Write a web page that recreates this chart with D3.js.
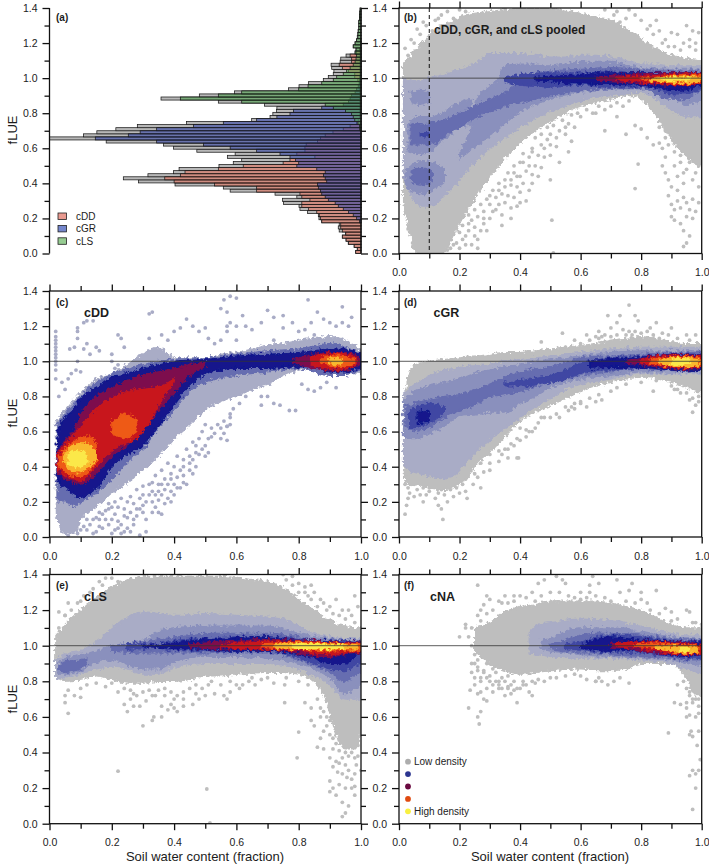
<!DOCTYPE html>
<html>
<head>
<meta charset="utf-8">
<script src="https://cdn.jsdelivr.net/npm/d3@7"></script>
<style>
  body { margin: 0; background: #fff; }
  text { font-family: "Liberation Sans", Arial, sans-serif; fill: #1c1c1c; }
  .domain { display: none; }
</style>
</head>
<body>
<div id="chart"></div>
<script>
// values //

// panel (a): share of the axis width per fLUE bin, bottom bin first
var binWidth = 0.0175;
var histAll = [1.7,1.2,2.2,4.1,4.8,6,4.9,7,7.3,7,12.6,13.5,13.7,17.2,19.6,19.9,24.9,25.2,20.6,27.6,42,44.2,59.7,71.4,76.3,68.4,60.2,58.4,45.6,41,38.3,42.9,40.4,52.7,60.2,63.4,81.8,100,89.1,84.8,78.7,71.8,56,35.1,29.2,28.3,27.1,27,31,45.8,64.2,51.9,40.6,23.3,19.9,16.9,12.1,10.5,8.9,8.7,9.4,9.6,6.7,6.5,4.8,1.9,1.6,2.5,1.9,1.4,1.2,1,0.9,0.7,0.7,0.7,0.5,0.5,0.4,0.3];
var histDD = [1.7,1.2,2.2,4,4.8,6,4.9,6,6.5,6.5,12.6,13,13.4,14.2,16.9,19,19,16.4,19,19.6,33.5,33.5,47,60,63,58,56.5,45.8,37.8,25,22.8,14.8,20.6,18,18,17.6,14,13,11.5,9,5.7,3.5,1.4,0.9,0.5,0.5,0.5,0.5,0.5,0.5,0.5,0.5,0.5,0.5,0.5,0.5,1,2,2,4,6,7,3,3,3.5,1.5,0.5,0,0,0,0,0,0,0,0,0,0,0,0,0];
var histGR = [0,0,0,0,0,0,0,0,0,0,0.5,1.4,2.5,4,5.7,7.3,8.3,10.5,11.5,12.6,13,13.7,14,11,11.5,12,11.5,14.2,20.6,20,21,22.8,26,33.5,42,50.6,65.6,85.3,74.7,70.9,65.6,53.8,44.2,33.5,27,22.8,21.7,12.6,5.7,4,3.5,3,1.9,1.4,0.9,0.6,0.5,0.4,0.3,0.3,0.3,0.3,0.3,0.3,0.3,0.3,0.2,0.2,0.2,0.2,0,0,0,0,0,0,0,0,0,0];
var histLS = [0,0,0,0,0,0,0,0,0,0,0,0,0,0,0,0,0,0,0,0,0,0,0,0,0,0,0,0,0,0,0,0,0,0,0,0,0,0,0,0,0.4,0.5,1,2,2.5,3,5,8.9,11.5,38.3,58,45.8,38.3,20,17,12.6,8.9,7.8,5.7,4.6,3.5,2.5,1.9,1.6,1.4,1.9,1.6,2.5,1.9,1.4,1,1,0.9,0.7,0.7,0.7,0.5,0.5,0.4,0.3];
var histSeries = ["cDD", "cGR", "cLS"];

var yTicksMajor = [0, 0.2, 0.4, 0.6, 0.8, 1.0, 1.2, 1.4];
var yTicksMinor = [0.1, 0.3, 0.5, 0.7, 0.9, 1.1, 1.3];
var xTicksMajor = [0, 0.2, 0.4, 0.6, 0.8, 1.0];
var xTicksMinor = [0.1, 0.3, 0.5, 0.7, 0.9];
var densityLegend = ["Low density", "", "", "", "High density"];

// density bands: [level, [[swc, low fLUE, high fLUE], ...]], outermost first
var bandsB = [
  [0, [[.015,.3,1.08],[.04,.08,1.13],[.06,0,1.17],[.1,0,1.24],[.14,0,1.3],[.17,.06,1.32],[.2,.17,1.35],[.25,.31,1.37],[.3,.44,1.38],[.35,.54,1.39],[.4,.63,1.4],[.45,.7,1.4],[.5,.75,1.4],[.55,.8,1.38],[.6,.84,1.37],[.65,.86,1.35],[.7,.88,1.33],[.75,.9,1.28],[.78,.9,1.25],[.8,.88,1.22],[.85,.78,1.17],[.9,.65,1.13],[.95,.55,1.11],[1,.5,1.1]]],
  [1, [[.015,.45,1],[.03,.37,.99],[.05,.3,.98],[.08,.27,.99],[.1,.27,1],[.12,.28,1.01],[.15,.33,1.02],[.2,.42,1.05],[.25,.52,1.08],[.3,.6,1.14],[.35,.66,1.14],[.4,.72,1.14],[.45,.77,1.13],[.5,.81,1.12],[.55,.84,1.12],[.6,.87,1.13],[.65,.89,1.13],[.7,.9,1.12],[.75,.91,1.1],[.8,.92,1.08],[.85,.88,1.08],[.9,.82,1.07],[.95,.78,1.07],[1,.78,1.07]]],
  [2, [[.03,.58,.72],[.05,.57,.78],[.1,.58,.78],[.13,.62,.79],[.17,.68,.83],[.2,.72,.86],[.24,.73,.88]]],
  [2, [[.2,.54,.57],[.22,.57,.64],[.24,.6,.72],[.26,.62,.89],[.3,.67,.95],[.33,.71,1],[.35,.74,1.07],[.4,.81,1.08],[.45,.85,1.08],[.5,.88,1.07],[.6,.92,1.09],[.7,.94,1.09],[.8,.95,1.06],[.9,.9,1.05],[.95,.85,1.05],[1,.87,1.05]]],
  [2, [[.04,.86,.92],[.07,.85,.93],[.1,.86,.92]]],
  [2, [[.02,.4,.47],[.04,.36,.5],[.08,.34,.53],[.11,.36,.52],[.15,.41,.48]]],
  [3, [[.04,.62,.74],[.08,.62,.74],[.12,.63,.75],[.15,.67,.76],[.2,.72,.8],[.25,.77,.84],[.3,.81,.88],[.35,.84,.92],[.4,.86,.97],[.45,.88,1.03],[.5,.9,1.04],[.6,.93,1.05],[.7,.94,1.06],[.8,.94,1.05],[.9,.88,1.04],[.95,.88,1.04],[1,.93,1.04]]],
  [3, [[.04,.41,.47],[.07,.39,.49],[.11,.41,.47]]],
  [4, [[.07,.67,.69],[.1,.67,.69]]],
  [4, [[.35,.98,1],[.4,.96,1.02],[.5,.95,1.03],[.6,.96,1.03],[.7,.95,1.04],[.8,.95,1.03],[.85,.94,1.03],[.9,.91,1.03],[.95,.91,1.03],[1,.94,1.03]]],
  [5, [[.45,.985,1.005],[.5,.98,1.01],[.55,.975,1.015],[.6,.97,1.02],[.65,.965,1.03],[.7,.965,1.03],[.8,.96,1.03],[.85,.95,1.03],[.9,.93,1.03],[.95,.935,1.03],[1,.96,1.03]]],
  [6, [[.65,.99,1.005],[.7,.98,1.015],[.75,.975,1.02],[.8,.97,1.025],[.9,.96,1.03],[.95,.96,1.03],[1,.97,1.03]]],
  [7, [[.72,.99,1.005],[.78,.98,1.01],[.85,.97,1.015],[.9,.965,1.02],[.95,.965,1.025],[1,.97,1.025]]],
  [8, [[.8,.99,1],[.85,.98,1.005],[.9,.975,1.015],[.95,.97,1.02],[1,.975,1.015]]],
  [9, [[.83,.985,.998],[.88,.98,1.005],[.93,.975,1.01],[.97,.975,1.01],[.995,.98,1]]],
  [10, [[.87,.99,1],[.93,.985,1.003],[.96,.985,1.003]]]
];
var bandsC = [
  [1, [[.022,.12,.66],[.05,.02,.72],[.08,.02,.78],[.1,.1,.82],[.15,.17,.9],[.2,.25,.93],[.25,.31,.98],[.3,.38,1.04],[.35,.46,1.08],[.4,.56,1.02],[.45,.64,1.02],[.5,.72,1.02],[.55,.77,1.04],[.6,.8,1.05],[.65,.84,1.07],[.7,.87,1.09],[.75,.92,1.1],[.8,.95,1.12],[.85,.96,1.13],[.9,.96,1.14],[.95,.95,1.12],[1,.93,1.07]]],
  [3, [[.025,.2,.65],[.05,.2,.7],[.08,.18,.76],[.1,.2,.8],[.15,.25,.88],[.2,.33,.93],[.25,.43,.96],[.3,.5,.98],[.35,.62,1],[.4,.72,1.01],[.45,.83,1.015],[.5,.88,1.02],[.6,.92,1.04],[.7,.94,1.06],[.8,.96,1.07],[.9,.92,1.1],[.95,.92,1.08],[1,.95,1.05]]],
  [5, [[.025,.35,.5],[.03,.31,.62],[.05,.28,.68],[.08,.24,.73],[.1,.22,.79],[.13,.25,.83],[.16,.29,.86],[.2,.4,.91],[.25,.47,.93],[.3,.52,.96],[.35,.63,.98],[.4,.75,1],[.45,.86,1.005],[.5,.93,1.01],[.6,.96,1.03],[.7,.96,1.04],[.8,.97,1.05],[.85,.97,1.06],[.9,.94,1.07],[.95,.94,1.07],[1,.96,1.05]]],
  [6, [[.025,.37,.48],[.05,.33,.55],[.08,.31,.62],[.1,.3,.7],[.15,.36,.8],[.2,.46,.85],[.25,.52,.89],[.3,.6,.92],[.35,.72,.94],[.4,.82,.96],[.45,.92,.98],[.5,.97,.995]]],
  [6, [[.78,.99,1.01],[.85,.96,1.04],[.9,.95,1.05],[.95,.95,1.05],[.98,.97,1.04],[.995,.98,1.02]]],
  [7, [[.025,.39,.46],[.05,.35,.53],[.08,.33,.58],[.1,.32,.63],[.14,.38,.71],[.18,.46,.77],[.22,.52,.81],[.28,.56,.84],[.32,.65,.85],[.36,.78,.86],[.4,.88,.9]]],
  [7, [[.84,.98,1.03],[.88,.96,1.04],[.92,.955,1.045],[.96,.96,1.04],[.985,.98,1.02]]],
  [8, [[.03,.41,.45],[.05,.37,.5],[.08,.345,.55],[.1,.345,.56],[.13,.38,.57],[.15,.42,.53]]],
  [8, [[.2,.59,.65],[.24,.56,.7],[.28,.6,.67]]],
  [8, [[.87,1,1.01],[.89,.98,1.03],[.92,.965,1.035],[.95,.97,1.03],[.98,.99,1.01]]],
  [9, [[.045,.43,.46],[.06,.39,.5],[.09,.37,.53],[.12,.39,.53],[.15,.44,.48]]],
  [9, [[.9,.985,1.02],[.92,.98,1.02],[.94,.99,1.01]]],
  [10, [[.06,.42,.47],[.08,.4,.49],[.1,.4,.49],[.12,.42,.47]]]
];
var bandsD = [
  [0, [[.015,.44,.8],[.02,.32,.82],[.03,.3,.9],[.05,.3,.98],[.1,.28,1],[.15,.27,1.01],[.2,.3,1.02],[.23,.34,1.03],[.25,.4,1.03],[.3,.48,1.04],[.35,.57,1.05],[.4,.66,1.05],[.45,.71,1.06],[.5,.75,1.07],[.55,.79,1.08],[.6,.83,1.09],[.65,.86,1.1],[.7,.88,1.12],[.75,.9,1.13],[.8,.91,1.14],[.9,.88,1.11],[.95,.85,1.1],[1,.82,1.1]]],
  [1, [[.015,.42,.82],[.03,.38,.84],[.07,.36,.89],[.12,.34,.93],[.15,.33,.95],[.19,.36,.96],[.22,.42,.97],[.25,.48,.975],[.3,.55,.98],[.35,.62,1],[.4,.68,1.01],[.45,.74,1.02],[.5,.79,1.03],[.55,.84,1.04],[.6,.87,1.05],[.7,.9,1.07],[.8,.93,1.08],[.9,.93,1.08],[1,.93,1.08]]],
  [2, [[.015,.57,.78],[.05,.56,.83],[.1,.59,.86],[.15,.63,.88],[.2,.69,.9],[.25,.7,.93],[.3,.71,.95],[.35,.71,.97],[.4,.76,.98],[.45,.8,1],[.5,.85,1.01],[.55,.88,1.02],[.6,.9,1.03],[.7,.92,1.05],[.8,.94,1.06],[.9,.94,1.06],[1,.94,1.06]]],
  [3, [[.02,.63,.74],[.05,.6,.76],[.1,.62,.78],[.15,.68,.8],[.2,.72,.81],[.25,.75,.84],[.3,.8,.87],[.35,.81,.91],[.4,.83,.94],[.5,.88,.97],[.55,.9,.99],[.6,.92,1.02],[.7,.94,1.03],[.8,.96,1.04],[.9,.96,1.05],[1,.96,1.05]]],
  [4, [[.035,.62,.72],[.07,.63,.75],[.1,.65,.76],[.13,.68,.75],[.15,.71,.74]]],
  [4, [[.35,.86,.88],[.4,.86,.89],[.5,.88,.92],[.55,.9,.95],[.6,.93,.99],[.65,.95,1.01],[.7,.95,1.02],[.8,.96,1.03],[.9,.95,1.03],[1,.95,1.04]]],
  [5, [[.06,.65,.71],[.08,.655,.72],[.1,.66,.71]]],
  [5, [[.63,.96,1],[.7,.965,1.015],[.75,.965,1.02],[.8,.965,1.025],[.85,.96,1.03],[.9,.95,1.04],[.95,.945,1.04],[1,.95,1.04]]],
  [6, [[.75,.99,1.005],[.8,.98,1.015],[.85,.97,1.03],[.9,.96,1.035],[.95,.955,1.035],[1,.96,1.035]]],
  [7, [[.8,.99,1.01],[.85,.98,1.025],[.9,.965,1.03],[.95,.96,1.03],[1,.965,1.03]]],
  [8, [[.83,.99,1.01],[.87,.98,1.02],[.92,.97,1.025],[.97,.97,1.025],[.995,.975,1.02]]],
  [9, [[.86,.99,1.01],[.9,.975,1.02],[.95,.97,1.02],[.99,.975,1.015]]],
  [10, [[.9,.985,1.01],[.93,.98,1.015],[.96,.985,1.01]]]
];
var bandsE = [
  [0, [[.02,.83,1.05],[.05,.8,1.12],[.1,.81,1.2],[.15,.83,1.27],[.2,.81,1.33],[.25,.79,1.37],[.3,.79,1.39],[.35,.8,1.39],[.4,.8,1.39],[.45,.81,1.39],[.5,.83,1.39],[.55,.83,1.39],[.6,.84,1.38],[.7,.85,1.36],[.75,.85,1.33],[.8,.84,1.26],[.85,.8,1.2],[.88,.72,1.16],[.9,.62,1.15],[.92,.5,1.12],[.95,.42,1.11],[.98,.42,1.1],[1,.5,1.1]]],
  [1, [[.02,.81,.92],[.05,.82,.95],[.1,.84,.97],[.15,.87,1.02],[.2,.88,1.1],[.25,.87,1.16],[.3,.84,1.19],[.35,.84,1.18],[.4,.88,1.17],[.5,.9,1.18],[.6,.9,1.17],[.7,.9,1.16],[.75,.89,1.15],[.8,.87,1.11],[.85,.83,1.07],[.9,.78,1.05],[.95,.7,1.04],[1,.7,1.04]]],
  [2, [[.03,.84,.9],[.05,.84,.93],[.1,.86,.95],[.13,.89,.96],[.2,.92,1],[.3,.87,1.03],[.35,.87,1.08],[.4,.91,1.1],[.5,.94,1.11],[.6,.94,1.11],[.7,.93,1.11],[.8,.9,1.07],[.85,.87,1.05],[.9,.82,1.04],[.95,.73,1.03],[1,.78,1.03]]],
  [3, [[.03,.86,.89],[.05,.85,.91],[.1,.87,.92],[.12,.9,.93]]],
  [3, [[.2,.97,1],[.3,.96,1.02],[.4,.96,1.05],[.5,.96,1.07],[.6,.96,1.07],[.7,.96,1.07],[.8,.92,1.05],[.85,.89,1.03],[.9,.85,1.03],[.95,.8,1.03],[1,.85,1.03]]],
  [4, [[.25,.98,1.01],[.35,.985,1.01],[.4,.975,1.03],[.5,.97,1.04],[.6,.97,1.05],[.7,.97,1.05],[.8,.93,1.04],[.85,.9,1.03],[.9,.87,1.03],[.95,.86,1.03],[1,.9,1.02]]],
  [5, [[.3,.99,1],[.4,.985,1.015],[.5,.98,1.035],[.6,.97,1.045],[.7,.97,1.05],[.8,.95,1.03],[.85,.93,1.03],[.9,.9,1.025],[.95,.9,1.02],[.98,.94,1.02],[1,.97,1.02]]],
  [6, [[.45,.99,1.01],[.5,.985,1.015],[.6,.98,1.025],[.7,.975,1.035],[.8,.96,1.03],[.85,.94,1.03],[.9,.94,1.02],[.95,.95,1.02],[1,.96,1.02]]],
  [7, [[.55,.99,1.005],[.6,.985,1.015],[.7,.98,1.025],[.8,.975,1.025],[.85,.955,1.025],[.9,.95,1.015],[.95,.96,1.015],[1,.97,1.01]]],
  [8, [[.68,.995,1.01],[.72,.985,1.015],[.8,.98,1.02],[.85,.975,1.02],[.9,.97,1.015],[.95,.975,1.01],[1,.975,1.01]]],
  [9, [[.72,.99,1.005],[.8,.985,1.015],[.85,.98,1.01],[.9,.98,1.01],[.95,.985,1.005],[.99,.98,1]]],
  [10, [[.78,.99,1.005],[.82,.985,1.01],[.86,.985,1.01],[.9,.985,1.005],[.94,.985,1.005]]]
];
var bandsF = [
  [0, [[.25,.97,1.1],[.3,.9,1.13],[.35,.86,1.19],[.4,.84,1.22],[.45,.85,1.23],[.5,.86,1.25],[.6,.87,1.25],[.65,.86,1.25],[.7,.86,1.24],[.75,.87,1.22],[.8,.9,1.2],[.85,.9,1.16],[.9,.9,1.12],[.95,.82,1.1],[.98,.72,1.1],[1,.72,1.1]]],
  [1, [[.43,.96,1.07],[.46,.95,1.12],[.5,.94,1.13],[.6,.93,1.15],[.7,.93,1.14],[.8,.92,1.11],[.9,.9,1.07],[.95,.87,1.06],[1,.84,1.06]]],
  [2, [[.47,.98,1.03],[.5,.97,1.04],[.55,.96,1.08],[.6,.95,1.1],[.7,.94,1.1],[.8,.93,1.08],[.9,.92,1.05],[.95,.9,1.04],[1,.89,1.04]]],
  [3, [[.5,.985,1.01],[.55,.97,1.03],[.6,.96,1.06],[.65,.96,1.07],[.7,.95,1.07],[.8,.94,1.06],[.9,.93,1.04],[.95,.92,1.03],[1,.92,1.03]]],
  [4, [[.55,.985,1.01],[.6,.975,1.02],[.65,.965,1.05],[.7,.965,1.06],[.8,.96,1.05],[.9,.94,1.03],[.95,.93,1.03],[1,.93,1.03]]],
  [5, [[.6,.985,1.005],[.65,.975,1.035],[.7,.97,1.05],[.75,.975,1.04],[.8,.97,1.03],[.85,.96,1.03],[.9,.95,1.025],[.95,.94,1.02],[1,.95,1.02]]],
  [6, [[.7,.99,1.015],[.75,.985,1.02],[.8,.97,1.025],[.85,.96,1.025],[.9,.955,1.02],[.95,.945,1.02],[1,.955,1.01]]],
  [7, [[.72,.995,1.015],[.8,.985,1.02],[.85,.97,1.02],[.9,.96,1.015],[.95,.95,1.01],[1,.96,1.005]]],
  [8, [[.78,.995,1.012],[.85,.985,1.015],[.9,.965,1.01],[.95,.955,1.005],[.99,.96,1]]],
  [9, [[.85,.985,1],[.9,.97,.995],[.95,.96,.995],[.99,.965,.99]]],
  [10, [[.93,.97,.985],[.96,.965,.985]]]
];

// stray points outside the solid bands: [swc, fLUE]
var strayB = [[.505,.19],[.51,.003],[.78,.37],[.79,.51],[.75,.68],[.78,.73],[.8,.71],[.82,.66],[.84,.62],[.86,.63],[.87,.6],[.88,.55],[.87,.5],[.88,.46],[.89,.42],[.9,.38],[.92,.36],[.89,.33],[.9,.28],[.91,.25],[.9,.21],[.92,.3],[.94,.32],[.95,.29],[.96,.25],[.97,.2],[.95,.21],[.97,.31],[.99,.29],[.93,.17],[.94,.13],[.96,.1],[.95,.06],[.94,.04],[.91,.19],[.93,.26],[.98,.24],[.94,.4],[.97,.42],[.99,.38],[.68,.7],[.72,.78],[.65,.8],[.57,.64],[.53,.52],[.56,.58],[.5,.62],[.5,.42],[.52,.66],[.55,.72],[.48,.55],[.42,.3],[.44,.4],[.46,.44],[.4,.35],[.39,.27],[.37,.2],[.34,.16],[.33,.28],[.36,.33],[.3,.33],[.28,.2],[.27,.13],[.25,.1],[.24,.05],[.26,.03],[.22,.1],[.23,.17],[.21,.08],[.2,.03],[.18,.05],[.16,.02],[.29,.13],[.31,.24],[.35,.42],[.38,.46],[.41,.52],[.44,.58],[.47,.62],[.43,.5],[.4,.44],[.37,.39],[.33,.36],[.2,1.39],[.14,1.36],[.12,1.33],[.06,1.28],[.04,1.22],[.02,1.17],[.08,1.32],[.78,1.36],[.8,1.33],[.83,1.3],[.86,1.27],[.88,1.22],[.9,1.26],[.92,1.25],[.95,1.3],[.97,1.27],[.99,1.26],[.94,1.2],[.96,1.18],[.98,1.16],[.72,1.38],[.68,1.39],[.76,1.39],[.15,.06],[.13,.03],[.17,.14],[.07,.02],[.045,.06],[.03,.14],[.87,.78],[.9,.7],[.93,.6],[.97,.58],[.88,.66]];
var fringeB = [[.16,.08],[.17,.03],[.18,.11],[.19,.06],[.2,.12],[.21,.16],[.22,.05],[.23,.13],[.23,.22],[.24,.19],[.25,.15],[.25,.25],[.26,.08],[.26,.21],[.27,.28],[.28,.17],[.28,.24],[.29,.31],[.3,.2],[.3,.28],[.31,.36],[.32,.25],[.32,.32],[.33,.4],[.34,.22],[.34,.34],[.35,.29],[.35,.38],[.36,.46],[.37,.26],[.37,.42],[.38,.32],[.38,.5],[.39,.38],[.39,.44],[.4,.29],[.4,.52],[.41,.4],[.41,.57],[.42,.47],[.43,.36],[.43,.55],[.44,.45],[.44,.6],[.45,.5],[.45,.66],[.46,.56],[.47,.49],[.47,.68],[.48,.6],[.49,.65],[.49,.72],[.5,.56],[.5,.68],[.51,.73],[.52,.61],[.53,.7],[.54,.76],[.55,.68],[.56,.74],[.57,.79],[.58,.72],[.59,.8],[.6,.78],[.62,.82],[.64,.8],[.66,.84],[.68,.82],[.7,.84],[.72,.86],[.74,.84],[.76,.87],[.86,.72],[.88,.7],[.89,.62],[.91,.58],[.91,.5],[.93,.52],[.95,.48],[.96,.52],[.98,.46],[.99,.5],[.92,.44],[.94,.46],[.93,.56],[.97,.56],[.03,1.13],[.05,1.2],[.07,1.25],[.09,1.3],[.11,1.27],[.13,1.34],[.16,1.38],[.18,1.34],[.22,1.38],[.82,1.28],[.84,1.25],[.87,1.2],[.91,1.18],[.93,1.16],[.89,1.18],[.85,1.33],[.75,1.34],[.73,1.32],[.71,1.36],[.96,1.22],[.98,1.2]];
var strayC = [[.02,.9],[.02,.95],[.02,.98],[.02,1],[.02,1.02],[.02,1.04],[.02,1.06],[.02,1.08],[.02,1.1],[.02,1.12],[.02,1.14],[.02,1.17],[.03,.8],[.04,.88],[.05,.84],[.06,.9],[.07,.93],[.085,.95],[.1,.94],[.065,1.07],[.08,1.08],[.09,1],[.11,1.07],[.12,1.1],[.13,1.04],[.15,1.08],[.16,1.06],[.09,1.13],[.09,1.19],[.09,1.17],[.11,1.22],[.12,1.23],[.14,1.23],[.22,1.15],[.23,1.13],[.24,1.08],[.2,1.04],[.2,1],[.22,.98],[.21,.96],[.33,1.28],[.32,1.27],[.32,1.13],[.36,1.15],[.38,1.12],[.4,1.17],[.42,1.19],[.44,1.24],[.46,1.2],[.48,1.17],[.5,1.19],[.51,1.13],[.53,1.1],[.55,1.12],[.57,1.17],[.57,1.28],[.58,1.22],[.55,1.3],[.56,1.35],[.58,1.37],[.6,1.36],[.57,1.2],[.6,1.2],[.6,1.12],[.62,1.26],[.63,1.2],[.65,1.18],[.68,1.22],[.7,1.29],[.72,1.25],[.75,1.19],[.78,1.22],[.72,1.12],[.82,1.18],[.84,1.22],[.85,1.15],[.83,1.35],[.86,1.28],[.88,1.24],[.9,1.22],[.92,1.2],[.94,1.22],[.94,1.31],[.97,1.25],[.96,1.2],[.75,1.26],[.8,1.17],[.62,.87],[.65,.85],[.68,.8],[.7,.8],[.68,.75],[.72,.76],[.74,.75],[.77,.72],[.79,.72],[.81,.87],[.83,.84],[.85,.83],[.87,.85],[.89,.88],[.92,.85],[.58,.68],[.57,.63],[.56,.59],[.52,.57],[.5,.46],[.57,.63],[.45,.46],[.43,.4],[.39,.33],[.36,.3],[.33,.26],[.3,.14],[.28,.16],[.25,.2],[.24,.12],[.22,.05],[.2,.02],[.18,.1],[.16,.06],[.14,.02],[.12,.1],[.27,.07],[.26,.03],[.3,.24],[.33,.2],[.35,.14],[.37,.19],[.39,.2],[.41,.28],[.43,.31],[.35,.26],[.31,.03],[.29,.01],[.24,.03],[.22,.17],[.19,.16],[.16,.14],[.46,.36],[.47,.48]];
var fringeC = [[.05,.03],[.06,.01],[.07,.03],[.09,.02],[.1,.04],[.11,.06],[.12,.04],[.13,.07],[.14,.1],[.15,.03],[.15,.11],[.16,.1],[.17,.05],[.17,.13],[.18,.15],[.19,.07],[.19,.19],[.2,.1],[.2,.17],[.21,.04],[.21,.13],[.21,.2],[.22,.09],[.23,.02],[.23,.07],[.23,.22],[.24,.16],[.25,.05],[.25,.11],[.26,.14],[.26,.23],[.27,.1],[.27,.19],[.28,.12],[.28,.27],[.29,.16],[.29,.22],[.3,.18],[.3,.29],[.31,.1],[.31,.2],[.32,.24],[.32,.3],[.33,.14],[.33,.31],[.34,.17],[.34,.24],[.34,.35],[.35,.21],[.35,.3],[.36,.13],[.36,.24],[.36,.38],[.37,.27],[.37,.33],[.38,.22],[.38,.3],[.38,.42],[.39,.26],[.39,.36],[.4,.24],[.4,.3],[.4,.4],[.41,.34],[.41,.46],[.42,.28],[.42,.38],[.43,.35],[.43,.44],[.44,.3],[.44,.5],[.45,.38],[.45,.42],[.46,.44],[.46,.54],[.47,.4],[.47,.52],[.48,.47],[.48,.56],[.49,.5],[.49,.6],[.5,.52],[.5,.64],[.51,.56],[.52,.62],[.53,.59],[.54,.64],[.55,.62],[.56,.66],[.58,.7],[.59,.73],[.61,.76],[.63,.8],[.55,.56],[.51,.48],[.57,.55],[.58,.64]];
var strayD = [[.02,.13],[.025,.18],[.03,.22],[.035,.25],[.05,.23],[.06,.27],[.08,.2],[.09,.24],[.1,.26],[.12,.22],[.13,.18],[.145,.1],[.14,.16],[.16,.2],[.18,.23],[.2,.25],[.22,.26],[.225,.22],[.27,.28],[.245,.3],[.25,.36],[.27,.42],[.3,.42],[.33,.43],[.36,.45],[.39,.45],[.395,.45],[.4,.62],[.42,.61],[.39,.56],[.37,.53],[.35,.5],[.43,.6],[.47,.68],[.48,.68],[.52,.7],[.55,.74],[.57,.74],[.58,.73],[.6,.76],[.62,.74],[.65,.77],[.67,.78],[.84,.83],[.97,.71],[.98,.75],[.96,.78],[.99,.77],[.93,.82],[.91,.84],[.54,1.16],[.58,1.12],[.47,1.11],[.62,1.15],[.65,1.14],[.66,1.13],[.68,1.15],[.66,1.17],[.7,1.19],[.72,1.22],[.69,1.26],[.73,1.26],[.76,1.32],[.78,1.26],[.79,1.23],[.74,1.18],[.77,1.15],[.82,1.17],[.83,1.19],[.85,1.22],[.89,1.15],[.9,1.19],[.95,1.15],[.98,1.15],[.8,1.16],[.86,1.13],[.76,1.17]];
var fringeD = [[.02,.3],[.03,.28],[.04,.3],[.05,.3],[.06,.32],[.07,.24],[.08,.28],[.09,.3],[.1,.28],[.11,.31],[.12,.29],[.13,.25],[.14,.27],[.15,.24],[.16,.29],[.17,.27],[.18,.3],[.19,.28],[.21,.3],[.22,.33],[.26,.34],[.28,.37],[.3,.38],[.3,.47],[.33,.49],[.34,.47],[.36,.5],[.38,.52],[.4,.55],[.42,.57],[.44,.6],[.45,.62],[.46,.65],[.5,.68],[.53,.68],[.56,.72],[.58,.76],[.6,.77],[.63,.79],[.66,.81],[.7,.83],[.72,.85],[.75,.87],[.8,.88],[.85,.89],[.9,.86],[.92,.84],[.95,.82],[.97,.79],[.99,.8],[.55,1.08],[.6,1.1],[.63,1.12],[.67,1.14],[.7,1.14],[.72,1.15],[.75,1.15],[.78,1.17],[.84,1.15],[.87,1.16],[.92,1.13],[.96,1.12]];
var strayE = [[.22,.295],[.505,.195],[.515,.005],[.795,.37],[.8,.515],[.755,.78],[.755,.68],[.82,.68],[.06,.62],[.05,.68],[.05,.72],[.08,.72],[.1,.71],[.06,.75],[.3,.55],[.33,.58],[.335,.6],[.36,.6],[.25,.63],[.27,.66],[.29,.66],[.24,.67],[.26,.7],[.27,.73],[.31,.69],[.33,.72],[.36,.66],[.38,.64],[.39,.67],[.4,.65],[.41,.63],[.43,.66],[.46,.67],[.43,.7],[.4,.7],[.37,.72],[.48,.7],[.5,.72],[.47,.73],[.49,.76],[.51,.78],[.53,.73],[.56,.72],[.57,.7],[.58,.74],[.62,.78],[.64,.8],[.66,.78],[.61,.76],[.92,.35],[.9,.37],[.91,.32],[.93,.34],[.95,.33],[.96,.3],[.94,.28],[.9,.24],[.91,.2],[.92,.16],[.9,.18],[.93,.22],[.95,.2],[.97,.2],[.98,.21],[.98,.16],[.94,.12],[.96,.1],[.95,.06],[.94,.04],[.97,.25],[.98,.28],[1,.3],[.99,.38],[.96,.38],[.88,.42],[.86,.43],[.87,.48],[.88,.52],[.9,.5],[.85,.55],[.84,.58],[.87,.6],[.84,.65],[.93,.41],[.1,1.25],[.13,1.3],[.06,1.24],[.03,1.19],[.05,1.17],[.03,1.1],[.16,1.36],[.8,1.35],[.82,1.33],[.84,1.34],[.85,1.3],[.88,1.24],[.9,1.22],[.92,1.26],[.94,1.2],[.98,1.28],[.99,1.22],[.97,1.17],[.78,1.39],[.75,1.4]];
var fringeE = [[.05,1.17],[.07,1.2],[.09,1.24],[.11,1.28],[.12,1.22],[.14,1.32],[.15,1.26],[.17,1.34],[.18,1.38],[.2,1.38],[.22,1.36],[.76,1.37],[.78,1.34],[.8,1.3],[.82,1.3],[.83,1.28],[.84,1.26],[.86,1.22],[.87,1.26],[.89,1.2],[.91,1.18],[.93,1.17],[.95,1.15],[.96,1.2],[.98,1.13],[.86,.7],[.87,.65],[.88,.63],[.89,.6],[.89,.55],[.9,.58],[.91,.48],[.92,.45],[.93,.47],[.91,.42],[.94,.37],[.95,.4],[.96,.43],[.97,.4],[.98,.37],[.99,.44],[1,.5],[.89,.7],[.985,.33],[.955,.26],[.925,.29],[.22,.74],[.24,.76],[.26,.75],[.28,.72],[.3,.74],[.32,.75],[.34,.72],[.35,.75],[.37,.76],[.39,.74],[.41,.72],[.43,.74],[.45,.76],[.47,.78],[.52,.8],[.55,.78],[.58,.8],[.6,.78],[.65,.82],[.68,.81],[.7,.82],[.72,.79],[.76,.82],[.8,.8],[.83,.78],[.1,.76],[.12,.78],[.15,.79],[.18,.77],[.2,.79]];
var strayF = [[.2,1.05],[.22,1.1],[.24,1.1],[.26,1.17],[.27,1.2],[.28,1.23],[.3,1.26],[.33,1.25],[.26,1.34],[.29,1.28],[.35,1.28],[.38,1.25],[.43,1.22],[.45,1.25],[.46,1.35],[.48,1.37],[.52,1.39],[.54,1.37],[.55,1.35],[.58,1.27],[.6,1.3],[.62,1.27],[.63,1.34],[.64,1.39],[.66,1.35],[.63,1.3],[.72,1.37],[.73,1.3],[.76,1.31],[.77,1.35],[.8,1.3],[.8,1.26],[.85,1.31],[.82,1.24],[.88,1.21],[.9,1.19],[.95,1.2],[.96,1.19],[.98,1.13],[.26,.73],[.24,.85],[.235,.75],[.27,.74],[.25,.78],[.27,.8],[.29,.76],[.31,.74],[.28,.7],[.29,.69],[.26,.6],[.265,.56],[.23,.65],[.27,.63],[.24,.9],[.26,.88],[.28,.86],[.3,.83],[.33,.76],[.33,.8],[.36,.76],[.37,.73],[.39,.68],[.41,.78],[.43,.74],[.44,.72],[.45,.79],[.6,.83],[.62,.81],[.65,.8],[.66,.82],[.76,.79],[.89,.51],[.95,.6],[.98,.6],[.96,.61],[.93,.67],[.91,.68],[.99,.62],[.99,.66],[.95,.65],[.97,.7],[.96,.5],[.965,.52],[.99,.52],[.97,.49],[.985,.44],[.98,.28],[.97,.3],[.96,.27],[.99,.3],[.98,.2],[.97,.08],[.995,.36],[.99,.74]];
var fringeF = [[.22,1.12],[.23,1.05],[.24,1],[.25,.95],[.26,.92],[.27,1],[.28,.95],[.29,.9],[.3,.92],[.31,.87],[.32,.85],[.33,.9],[.34,.82],[.35,.8],[.36,.83],[.37,.78],[.38,.8],[.39,.76],[.4,.76],[.41,.8],[.25,.9],[.26,.86],[.28,.85],[.29,.82],[.3,.8],[.31,.78],[.32,.8],[.33,.78],[.34,.76],[.35,.72],[.25,.82],[.27,.82],[.36,.77],[.38,.75],[.42,.78],[.44,.8],[.46,.81],[.48,.8],[.5,.82],[.52,.82],[.55,.83],[.58,.84],[.65,.8],[.67,.8],[.69,.78],[.71,.8],[.73,.82],[.27,1.14],[.29,1.18],[.31,1.2],[.34,1.24],[.36,1.24],[.38,1.28],[.4,1.28],[.42,1.27],[.44,1.3],[.47,1.28],[.5,1.3],[.53,1.3],[.56,1.28],[.6,1.26],[.65,1.28],[.68,1.27],[.7,1.25],[.75,1.25],[.78,1.24],[.83,1.2],[.86,1.18],[.9,1.14],[.92,1.15],[.97,1.13],[1,1.12],[.94,.8],[.95,.76],[.96,.72],[.97,.68],[.98,.7],[.99,.7],[.95,.68],[.96,.74],[.92,.78],[.97,.75]];

// drawing //

var w = 709, h = 864;
var boxes = {
  a: { x0: 49.5, x1: 361, y0: 8, y1: 253.5 },
  b: { x0: 399, x1: 701.7, y0: 8, y1: 253.5 },
  c: { x0: 49.5, x1: 361, y0: 291, y1: 537 },
  d: { x0: 399, x1: 701.7, y0: 291, y1: 537 },
  e: { x0: 49.5, x1: 361, y0: 574.5, y1: 823.7 },
  f: { x0: 399, x1: 701.7, y0: 574.5, y1: 823.7 }
};
// grey, then the blue to yellow ramp of the density colouring
var levelColors = ["#bebebe", "#a9acc6", "#8a90bd", "#666db0", "#3f47a3", "#12198c", "#7d0f4e", "#c8151f", "#ee5a14", "#f9b82e", "#fbe84a"];

var svg = d3.select("#chart").append("svg")
  .attr("width", w)
  .attr("height", h)
  .style("display", "block");

// roughens the band edges so they read as piles of dots
var rough = svg.append("filter")
  .attr("id", "rough")
  .attr("filterUnits", "userSpaceOnUse")
  .attr("x", 0).attr("y", 0)
  .attr("width", w).attr("height", h);
rough.append("feTurbulence")
  .attr("type", "fractalNoise")
  .attr("baseFrequency", 0.3)
  .attr("numOctaves", 2)
  .attr("seed", 4)
  .attr("result", "noise");
rough.append("feDisplacementMap")
  .attr("in", "SourceGraphic")
  .attr("in2", "noise")
  .attr("scale", 7)
  .attr("xChannelSelector", "R")
  .attr("yChannelSelector", "G");
rough.append("feGaussianBlur").attr("stdDeviation", 0.55);

function scalesFor(b) {
  return {
    x: d3.scaleLinear().domain([0, 1]).range([b.x0, b.x1]),
    y: d3.scaleLinear().domain([0, 1.4]).range([b.y1, b.y0])
  };
}

function drawAxis(g, axis, size, values, labelled) {
  g.call(axis.tickValues(values)
    .tickSize(size)
    .tickPadding(labelled ? 5 : 0)
    .tickFormat(labelled ? d3.format(".1f") : ""));
  g.selectAll(".tick line").attr("stroke", "#111").attr("stroke-width", 1.3);
  g.selectAll(".tick text").style("font-size", "10.5px").style("font-family", '"Liberation Sans", Arial, sans-serif').attr("fill", "#1c1c1c");
}

function frame(id, s, b, opts) {
  var g = svg.append("g").attr("class", "frame-" + id);
  var left = g.append("g").attr("transform", "translate(" + b.x0 + ",0)");
  drawAxis(left.append("g"), d3.axisLeft(s.y), 7, yTicksMajor, true);
  drawAxis(left.append("g"), d3.axisLeft(s.y), 5, yTicksMinor, false);
  if (opts.rightTicks) {
    var right = g.append("g").attr("transform", "translate(" + b.x1 + ",0)");
    drawAxis(right.append("g"), d3.axisRight(s.y), 7, yTicksMajor, false);
    drawAxis(right.append("g"), d3.axisRight(s.y), 5, yTicksMinor, false);
  }
  if (opts.xAxes) {
    var bottom = g.append("g").attr("transform", "translate(0," + b.y1 + ")");
    drawAxis(bottom.append("g"), d3.axisBottom(s.x), 6.5, xTicksMajor, true);
    drawAxis(bottom.append("g"), d3.axisBottom(s.x), 5, xTicksMinor, false);
    bottom.selectAll(".tick text").attr("dy", "1.05em");
    var top = g.append("g").attr("transform", "translate(0," + b.y0 + ")");
    drawAxis(top.append("g"), d3.axisTop(s.x), 6.5, xTicksMajor, false);
    drawAxis(top.append("g"), d3.axisTop(s.x), 5, xTicksMinor, false);
    g.append("rect")
      .attr("x", b.x0).attr("y", b.y0)
      .attr("width", b.x1 - b.x0).attr("height", b.y1 - b.y0)
      .attr("fill", "none").attr("stroke", "#111").attr("stroke-width", 1.3);
  } else {
    // panel (a) only has its two side rails
    g.selectAll("line.rail").data([b.x0, b.x1]).enter().append("line")
      .attr("class", "rail")
      .attr("x1", d => d).attr("x2", d => d)
      .attr("y1", b.y0).attr("y2", b.y1)
      .attr("stroke", "#111").attr("stroke-width", 1.3);
  }
}

function densityPanel(id, bands, stray, strayLevel) {
  var b = boxes[id], s = scalesFor(b);
  svg.append("clipPath").attr("id", "clip-" + id)
    .append("rect")
    .attr("x", b.x0).attr("y", b.y0)
    .attr("width", b.x1 - b.x0).attr("height", b.y1 - b.y0);
  var g = svg.append("g").attr("clip-path", "url(#clip-" + id + ")");

  g.selectAll("circle.stray").data(stray).enter().append("circle")
    .attr("class", "stray")
    .attr("cx", d => s.x(d[0]))
    .attr("cy", d => s.y(d[1]))
    .attr("r", 1.9)
    .attr("fill", levelColors[strayLevel]);

  var area = d3.area()
    .curve(d3.curveMonotoneX)
    .x(d => s.x(d[0]))
    .y0(d => s.y(d[1]))
    .y1(d => s.y(d[2]));

  // bands touching x = 1 run on past the frame so the roughening leaves no gap
  function outline(pts) {
    var last = pts[pts.length - 1];
    return area(last[0] == 1 ? pts.concat([[1.03, last[1], last[2]]]) : pts);
  }

  var bandGroup = g.append("g").attr("filter", "url(#rough)");
  bandGroup.selectAll("path.band").data(bands).enter().append("path")
    .attr("class", "band")
    .attr("d", d => outline(d[1]))
    .attr("fill", d => levelColors[d[0]])
    .attr("stroke", d => levelColors[d[0]])
    .attr("stroke-width", 1.2);

  g.append("line")
    .attr("x1", b.x0).attr("x2", b.x1)
    .attr("y1", s.y(1)).attr("y2", s.y(1))
    .attr("stroke", "#333").attr("stroke-width", 0.8);

  frame(id, s, b, { rightTicks: id == "c" || id == "e", xAxes: true });
  return s;
}

// PANEL A //
var boxA = boxes.a, scaleA = scalesFor(boxA);
var histX = d3.scaleLinear().domain([0, 100]).range([boxA.x1, boxA.x0]);
var histFill = ["rgba(222,112,92,0.6)", "rgba(56,72,165,0.62)", "rgba(76,158,76,0.58)"];

function histBars(values, fill, cls) {
  svg.append("g").selectAll("rect").data(values).enter().append("rect")
    .attr("class", cls)
    .attr("x", d => histX(d))
    .attr("y", (d, i) => scaleA.y((i + 1) * binWidth))
    .attr("width", d => boxA.x1 - histX(d))
    .attr("height", scaleA.y(0) - scaleA.y(binWidth))
    .attr("fill", fill)
    .attr("stroke", d => d > 0 ? "#1a1a1a" : "none")
    .attr("stroke-width", 0.75);
}
histBars(histAll, "#b8b8b8", "hist-all");
histBars(histDD, histFill[0], "hist-dd");
histBars(histGR, histFill[1], "hist-gr");
histBars(histLS, histFill[2], "hist-ls");
frame("a", scaleA, boxA, { rightTicks: true, xAxes: false });

var legendFill = ["#e99a90", "#7486cc", "#96cc92"];
var legendA = svg.append("g").selectAll("g").data(histSeries).enter().append("g")
  .attr("transform", (d, i) => "translate(58," + (213 + i * 12.4) + ")");
legendA.append("rect")
  .attr("width", 8.5).attr("height", 6.5)
  .attr("fill", (d, i) => legendFill[i])
  .attr("stroke", "#222").attr("stroke-width", 0.8);
legendA.append("text")
  .attr("x", 18).attr("y", 7)
  .style("font-size", "10px")
  .text(d => d);

// DENSITY PANELS //
var scaleB = densityPanel("b", bandsB, strayB.concat(fringeB), 0);
densityPanel("c", bandsC, strayC.concat(fringeC), 1);
densityPanel("d", bandsD, strayD.concat(fringeD), 0);
densityPanel("e", bandsE, strayE.concat(fringeE), 0);
var scaleF = densityPanel("f", bandsF, strayF.concat(fringeF), 0);

// pooled panel marks the 0.1 soil water line
svg.append("line")
  .attr("x1", scaleB.x(0.1)).attr("x2", scaleB.x(0.1))
  .attr("y1", boxes.b.y0).attr("y2", boxes.b.y1)
  .attr("stroke", "#111").attr("stroke-width", 1)
  .attr("stroke-dasharray", "4,3");

// TEXT //
function label(x, y, str, size, weight, anchor, rotate) {
  var t = svg.append("text")
    .attr("x", x).attr("y", y)
    .style("font-size", size + "px")
    .style("font-weight", weight || "normal")
    .attr("text-anchor", anchor || "start")
    .text(str);
  if (rotate) t.attr("transform", "rotate(-90," + x + "," + y + ")");
}
label(56, 21, "(a)", 10, "bold");
label(404, 21, "(b)", 10, "bold");
label(56, 305.5, "(c)", 10, "bold");
label(404, 305.5, "(d)", 10, "bold");
label(56, 588.5, "(e)", 10, "bold");
label(404, 588.5, "(f)", 10, "bold");
label(434, 34, "cDD, cGR, and cLS pooled", 12, "bold");
label(84, 317, "cDD", 12.5, "bold");
label(433.5, 317, "cGR", 12.5, "bold");
label(84, 601, "cLS", 12.5, "bold");
label(430, 601, "cNA", 12.5, "bold");
label(17, 130, "fLUE", 13, "normal", "middle", true);
label(17, 413, "fLUE", 13, "normal", "middle", true);
label(17, 699, "fLUE", 13, "normal", "middle", true);
label(205, 861, "Soil water content (fraction)", 13, "normal", "middle");
label(550, 861, "Soil water content (fraction)", 13, "normal", "middle");

// density key in panel (f)
var keyColors = ["#adadad", "#2c3590", "#6a0a40", "#e04a10", "#f8f040"];
var key = svg.append("g").selectAll("g").data(densityLegend).enter().append("g")
  .attr("transform", (d, i) => "translate(408," + (761.7 + i * 12.4) + ")");
key.append("circle").attr("r", 2.9).attr("fill", (d, i) => keyColors[i]);
key.append("text")
  .attr("x", 6).attr("y", 3.5)
  .style("font-size", "10px")
  .text(d => d);
</script>
</body>
</html>
